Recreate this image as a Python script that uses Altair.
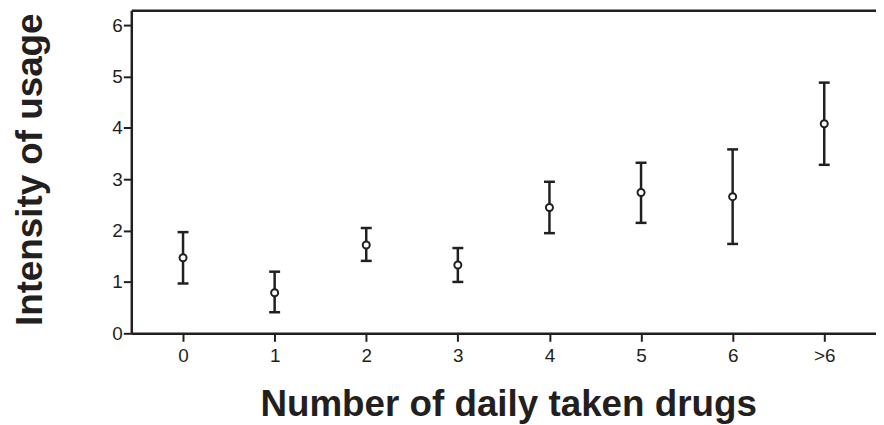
import altair as alt
import pandas as pd

categories = ["0", "1", "2", "3", "4", "5", "6", ">6"]
means = [1.47, 0.79, 1.72, 1.33, 2.45, 2.74, 2.66, 4.08]
lower = [0.97, 0.41, 1.41, 1.00, 1.95, 2.15, 1.74, 3.28]
upper = [1.97, 1.20, 2.05, 1.66, 2.95, 3.32, 3.58, 4.88]
y_ticks = [0, 1, 2, 3, 4, 5, 6]

df = pd.DataFrame({"cat": categories, "mean": means, "lower": lower, "upper": upper})

INK = "#231f20"
FONT = "Liberation Sans"
LABEL_SIZE = 19

xscale = alt.Scale(type="point", domain=categories, padding=0.565)
yscale = alt.Scale(domain=[0, 6.29], nice=False, zero=True)

x_bottom = alt.Axis(
    orient="bottom", title="Number of daily taken drugs", labelAngle=0,
    titleX=379, titleY=83, titleBaseline="alphabetic", titleAlign="center",
    titleFontSize=37, labelFontSize=LABEL_SIZE, labelPadding=5,
    tickSize=8,
)
x_top = alt.Axis(
    orient="top", title="", labels=False, ticks=False,
)
y_axis = alt.Axis(
    title="Intensity of usage", values=y_ticks,
    titleX=-90, titleY=160, titleBaseline="alphabetic", titleAlign="center",
    titleAngle=270, titleFontSize=37, labelFontSize=LABEL_SIZE, labelPadding=1,
    tickSize=8,
)

base = alt.Chart(df)

rules = base.mark_rule(color=INK, strokeWidth=2.5).encode(
    x=alt.X("cat:N", scale=xscale, axis=x_bottom, sort=categories),
    y=alt.Y("lower:Q", scale=yscale, axis=y_axis),
    y2="upper:Q",
)
cap_lo = base.mark_tick(color=INK, size=11, thickness=2.5, opacity=1).encode(
    x=alt.X("cat:N", scale=xscale, axis=x_bottom, sort=categories),
    y=alt.Y("lower:Q", scale=yscale, axis=y_axis),
)
cap_hi = base.mark_tick(color=INK, size=11, thickness=2.5, opacity=1).encode(
    x=alt.X("cat:N", scale=xscale, axis=x_bottom, sort=categories),
    y=alt.Y("upper:Q", scale=yscale, axis=y_axis),
)
points = base.mark_point(
    shape="circle", fill="white", fillOpacity=1, stroke=INK,
    strokeWidth=2, opacity=1, size=50,
).encode(
    x=alt.X("cat:N", scale=xscale, axis=x_top, sort=categories),
    y=alt.Y("mean:Q", scale=yscale, axis=y_axis),
)

chart = (
    alt.layer(alt.layer(rules, cap_lo, cap_hi), points)
    .resolve_axis(x="independent")
    .properties(
        width=749, height=325,
        padding={"left": 124, "top": 1, "right": 0, "bottom": 90},
        autosize="none",
        background="white",
    )
    .configure_view(stroke=None)
    .configure_axis(
        labelFont=FONT, labelColor=INK, labelFontSize=LABEL_SIZE,
        titleFont=FONT, titleColor=INK, titleFontWeight="bold",
        tickColor=INK, tickWidth=2, tickSize=8,
        domainColor=INK, domainWidth=2.5, grid=False,
    )
)

chart.save("out.html", embed_options={"renderer": "svg", "actions": False})
